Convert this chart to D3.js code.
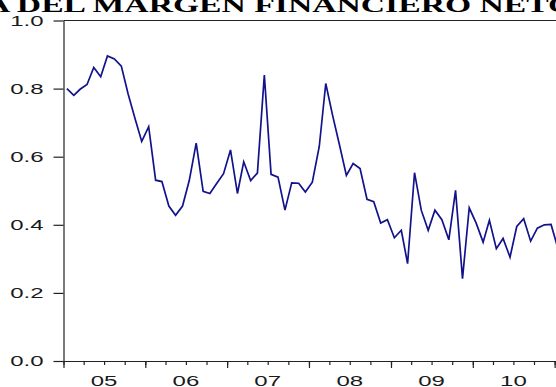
<!DOCTYPE html>
<html>
<head>
<meta charset="utf-8">
<script src="https://cdn.jsdelivr.net/npm/d3@7"></script>
<style>
  html, body { margin: 0; padding: 0; background: #fff; overflow: hidden; }
  svg { display: block; }
</style>
</head>
<body>
<svg id="chart" width="556" height="387"></svg>
<script>
// ---- data -------------------------------------------------------------
const titleText = "A DEL MARGEN FINANCIERO NETO";
const startYear = 2005;                       // first monthly observation: 2005M01
const values = [
  // 2005
  0.800, 0.780, 0.798, 0.812, 0.862, 0.835, 0.896, 0.887, 0.866, 0.785, 0.712, 0.645,
  // 2006
  0.688, 0.531, 0.527, 0.455, 0.428, 0.455, 0.530, 0.640, 0.498, 0.492, 0.522, 0.550,
  // 2007
  0.620, 0.492, 0.585, 0.530, 0.552, 0.840, 0.548, 0.540, 0.443, 0.523, 0.522, 0.496,
  // 2008
  0.525, 0.630, 0.815, 0.720, 0.635, 0.545, 0.580, 0.565, 0.475, 0.468, 0.405, 0.415,
  // 2009
  0.362, 0.384, 0.286, 0.553, 0.443, 0.384, 0.443, 0.415, 0.356, 0.501, 0.242, 0.450,
  // 2010
  0.405, 0.349, 0.413, 0.330, 0.360, 0.305, 0.395, 0.418, 0.352, 0.390, 0.400, 0.401,
  // 2011
  0.330
];
const yTicks = [0.0, 0.2, 0.4, 0.6, 0.8, 1.0];
const yearLabels = ["05", "06", "07", "08", "09", "10"];

// ---- layout -----------------------------------------------------------
const W = 556, H = 387;
const plotLeft = 63.5, plotTop = 20.5, plotBottom = 361;
const yearPx = 81.85;                         // width of one year on the time axis
const stretch = 1.6;                          // horizontal stretch of the axis lettering
const titleStretch = 1.53;

const svg = d3.select("#chart");

const series = values.map((v, i) => ({ date: new Date(startYear, i, 16), value: v }));

const x = d3.scaleTime()
  .domain([new Date(startYear, 0, 1), new Date(startYear + 7, 0, 1)])
  .range([plotLeft, plotLeft + 7 * yearPx]);
const y = d3.scaleLinear().domain([0, 1]).range([plotBottom, plotTop]);

// plot frame (top edge)
svg.append("line")
  .attr("x1", plotLeft).attr("x2", W + 5)
  .attr("y1", plotTop).attr("y2", plotTop)
  .attr("stroke", "#222").attr("stroke-width", 1.2);

// y axis
const yAxis = svg.append("g")
  .attr("transform", `translate(${plotLeft},0)`)
  .call(d3.axisLeft(y).tickValues(yTicks).tickSize(10).tickSizeOuter(0).tickFormat(""));
yAxis.selectAll("path, line").attr("stroke", "#222").attr("stroke-width", 1.2);

// x axis: quarterly minor ticks, yearly major ticks
const xMinor = svg.append("g")
  .attr("transform", `translate(0,${plotBottom})`)
  .call(d3.axisBottom(x).ticks(d3.timeMonth.every(3)).tickSize(4).tickSizeOuter(0).tickFormat(""));
xMinor.selectAll("path, line").attr("stroke", "#222").attr("stroke-width", 1.2);
const xMajor = svg.append("g")
  .attr("transform", `translate(0,${plotBottom})`)
  .call(d3.axisBottom(x).ticks(d3.timeYear.every(1)).tickSize(7).tickSizeOuter(0).tickFormat(""));
xMajor.select("path").remove();
xMajor.selectAll("line").attr("stroke", "#222").attr("stroke-width", 1.2);

// y tick labels
svg.append("g").selectAll("text")
  .data(yTicks)
  .join("text")
  .attr("transform", d => `translate(43.5,${y(d)}) scale(${stretch},1)`)
  .attr("dy", "0.36em")
  .attr("text-anchor", "end")
  .attr("font-family", "'Liberation Sans', Arial, sans-serif")
  .attr("font-size", 15)
  .attr("fill", "#1a1a1a")
  .text(d => d3.format(".1f")(d));

// year labels, centred in each year
svg.append("g").selectAll("text")
  .data(yearLabels)
  .join("text")
  .attr("transform", (d, i) => `translate(${x(new Date(startYear + i, 6, 1))},385.5) scale(${stretch},1)`)
  .attr("text-anchor", "middle")
  .attr("font-family", "'Liberation Sans', Arial, sans-serif")
  .attr("font-size", 15)
  .attr("fill", "#1a1a1a")
  .text(d => d);

// series line, clipped to the plot area
svg.append("clipPath").attr("id", "plot-clip")
  .append("rect")
  .attr("x", plotLeft).attr("y", plotTop)
  .attr("width", W - plotLeft + 10).attr("height", plotBottom - plotTop);

const line = d3.line()
  .x(d => x(d.date))
  .y(d => y(d.value));

svg.append("path")
  .datum(series)
  .attr("clip-path", "url(#plot-clip)")
  .attr("fill", "none")
  .attr("stroke", "#12128c")
  .attr("stroke-width", 1.7)
  .attr("stroke-linejoin", "miter")
  .attr("d", line);

// title (runs off the top and sides of the canvas)
svg.append("text")
  .attr("transform", `translate(-14,12) scale(${titleStretch},1)`)
  .attr("font-family", "'Liberation Serif', 'Times New Roman', serif")
  .attr("font-weight", "bold")
  .attr("font-size", 22)
  .attr("fill", "#000")
  .text(titleText);
</script>
</body>
</html>
